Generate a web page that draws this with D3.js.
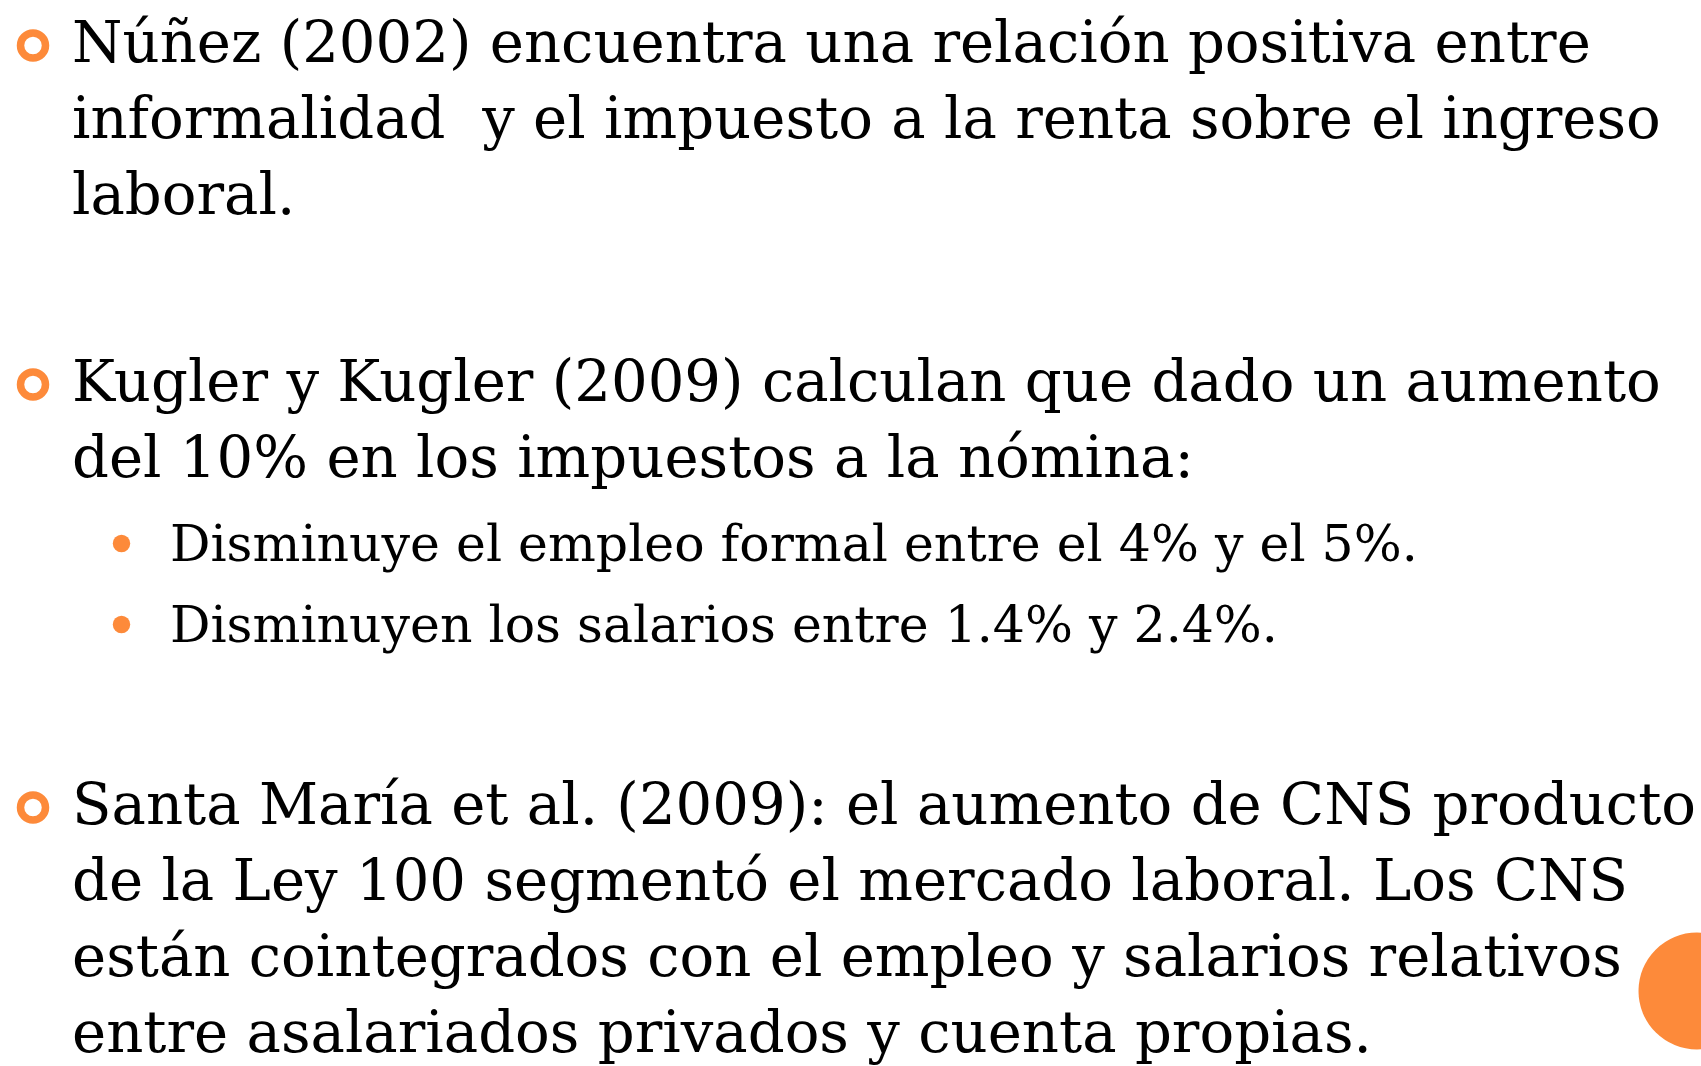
<!DOCTYPE html>
<html>
<head>
<meta charset="utf-8">
<script src="https://cdn.jsdelivr.net/npm/d3@7"></script>
<style>
  html, body { margin: 0; padding: 0; background: #ffffff; overflow: hidden; }
  svg { display: block; }
</style>
</head>
<body>
<svg id="slide" width="1701" height="1066"></svg>
<script>
// ---- content ----
const mainItems = [
  ["Núñez (2002) encuentra una relación positiva entre",
   "informalidad  y el impuesto a la renta sobre el ingreso",
   "laboral."],
  ["Kugler y Kugler (2009) calculan que dado un aumento",
   "del 10% en los impuestos a la nómina:"],
  ["Santa María et al. (2009): el aumento de CNS producto",
   "de la Ley 100 segmentó el mercado laboral. Los CNS",
   "están cointegrados con el empleo y salarios relativos",
   "entre asalariados privados y cuenta propias."]
];
const subItems = [
  "Disminuye el empleo formal entre el 4% y el 5%.",
  "Disminuyen los salarios entre 1.4% y 2.4%."
];

// ---- layout ----
const W = 1701, H = 1066;
const orange = "#FD8A3A";
const svg = d3.select("#slide");
const fontFamily = "'DejaVu Serif', 'Liberation Serif', serif";

// line baselines (px)
const mainBaselines = [[62, 138, 214], [401, 477], [824, 900, 976, 1052]];
const subBaselines = [561, 642];
const mainX = 72, subX = 170;

// measure font sizes so reference line widths match
function measure(str, size) {
  const t = svg.append("text").attr("font-family", fontFamily).attr("font-size", size).text(str);
  const w = t.node().getComputedTextLength();
  t.remove();
  return w;
}
const mainSize = 100 * 1519 / measure(mainItems[0][0], 100);
const subSize = 100 * 1248 / measure(subItems[0], 100);

// main bullets
const gMain = svg.append("g");
mainItems.forEach((lines, i) => {
  const g = gMain.append("g");
  g.append("circle")
    .attr("cx", 33).attr("cy", mainBaselines[i][0] - 16.5)
    .attr("r", 12.5).attr("fill", "none")
    .attr("stroke", orange).attr("stroke-width", 7.5);
  g.selectAll("text").data(lines).join("text")
    .attr("x", mainX)
    .attr("y", (d, j) => mainBaselines[i][j])
    .attr("font-family", fontFamily)
    .attr("font-size", mainSize)
    .attr("fill", "#000")
    .style("white-space", "pre")
    .attr("xml:space", "preserve")
    .text(d => d);
});

// sub bullets
const gSub = svg.append("g");
gSub.selectAll("circle").data(subItems).join("circle")
  .attr("cx", 121.5).attr("cy", (d, i) => subBaselines[i] - 17.5)
  .attr("r", 8.7).attr("fill", orange);
gSub.selectAll("text").data(subItems).join("text")
  .attr("x", subX).attr("y", (d, i) => subBaselines[i])
  .attr("font-family", fontFamily)
  .attr("font-size", subSize)
  .attr("fill", "#000")
  .text(d => d);

// decorative circle bottom right
svg.append("circle")
  .attr("cx", 1697).attr("cy", 991)
  .attr("r", 58.5).attr("fill", orange);
</script>
</body>
</html>
